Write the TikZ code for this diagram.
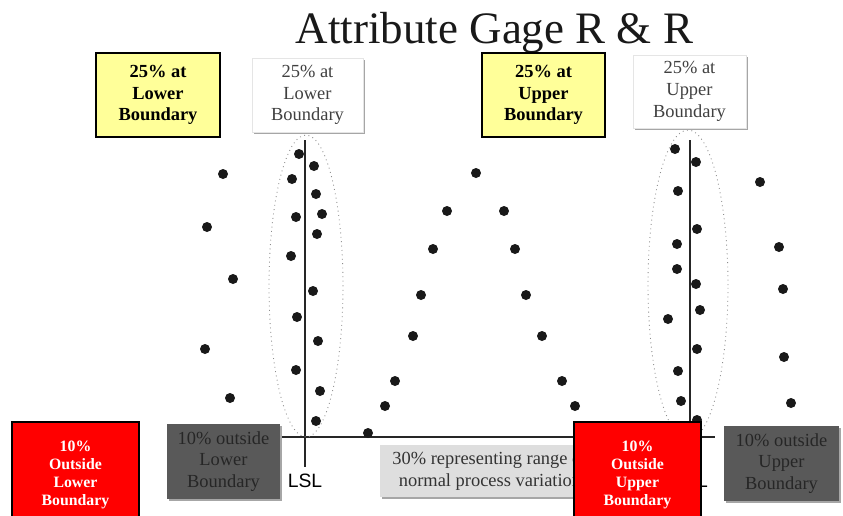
\documentclass[tikz,border=0pt]{standalone}
\usepackage{fontspec}
\setmainfont{Liberation Serif}
\setsansfont{Liberation Sans}
\usetikzlibrary{shadows}

\definecolor{boxyellow}{RGB}{255,255,153}
\definecolor{boxred}{RGB}{255,0,0}
\definecolor{boxgray}{RGB}{89,89,89}
\definecolor{rangegray}{RGB}{222,222,222}

\tikzset{
  box/.style={align=center, inner sep=0pt, font=\fontsize{10.5}{12.4}\selectfont},
  boxshadow/.style={drop shadow={shadow xshift=1pt, shadow yshift=-1pt, fill=black!35, opacity=1}},
  yellowbox/.style={box, draw=black, line width=1.1pt, fill=boxyellow,
    font=\bfseries\fontsize{10.5}{12.2}\selectfont},
  whitebox/.style={box, boxshadow, draw=black!10, fill=white, text=black!75},
  redbox/.style={box, draw=black, line width=1.1pt, fill=boxred, text=white,
    font=\bfseries\fontsize{9}{10.3}\selectfont},
  graybox/.style={box, boxshadow, fill=boxgray, text=black!85},
  rangebox/.style={box, boxshadow, fill=rangegray, text=black!80},
  datadot/.style={fill=black!90},
  limitline/.style={black!85, line width=0.6pt},
  zone/.style={black!45, dotted, line width=0.5pt},
  speclabel/.style={font=\sffamily\fontsize{11}{13}\selectfont, inner sep=1pt}
}

\begin{document}
\begin{tikzpicture}[x=0.02cm, y=-0.02cm]
		%%%%% frame %%%%%
		\clip (0,0) rectangle (843,515);
		\fill[white] (0,0) rectangle (843,515);
		
		\node[anchor=base, font=\fontsize{25.6}{30}\selectfont, text=black!90] (title) at (494.5,43) {Attribute Gage R \& R};
		
		%%%%% spec limits %%%%%
		\node[speclabel, anchor=north] (lsl) at (305,472) {LSL};
		\node[speclabel, anchor=north] (usl) at (689,472) {USL};
		\coordinate (lslTop) at (305,140);
		\coordinate (uslTop) at (690,140);
		\draw[limitline] (lslTop) -- (305,467);
		\draw[limitline] (uslTop) -- (690,467);
		\coordinate (axisL) at (282,437);
		\coordinate (axisR) at (715,437);
		\draw[limitline] (axisL) -- (axisR);
		
		\draw[zone] (306,286) ellipse [x radius=0.74cm, y radius=3.02cm];
		\draw[zone] (688,285) ellipse [x radius=0.8cm, y radius=3.1cm];
		
		%%%%% readings %%%%%
		% outside lower
		\foreach \px/\py in {223/174, 207/227, 233/279, 205/349, 230/398}
		  \fill[datadot] (\px,\py) circle (0.1cm);
		% at lower boundary
		\foreach \px/\py in {299/154, 314/166, 292/179, 316/194, 322/214, 296/217, 317/234,
		                     291/256, 313/291, 297/317, 318/341, 296/370, 320/391, 316/421}
		  \fill[datadot] (\px,\py) circle (0.1cm);
		% normal variation
		\foreach \px/\py in {476/173, 447/211, 504/211, 433/249, 515/249, 421/295, 526/295,
		                     413/336, 542/336, 395/381, 562/381, 385/406, 575/406, 368/433}
		  \fill[datadot] (\px,\py) circle (0.1cm);
		% at upper boundary
		\foreach \px/\py in {675/149, 696/162, 678/191, 697/229, 677/244, 677/269, 696/284,
		                     700/310, 668/319, 697/349, 678/371, 681/401, 697/420}
		  \fill[datadot] (\px,\py) circle (0.1cm);
		% outside upper
		\foreach \px/\py in {760/182, 779/247, 783/289, 784/357, 791/403}
		  \fill[datadot] (\px,\py) circle (0.1cm);
		
		%%%%% labels %%%%%
		\node[yellowbox, minimum width=2.48cm, minimum height=1.68cm] (lowerIn) at (158,95) {25\% at\\Lower\\Boundary};
		\node[whitebox, minimum width=2.22cm, minimum height=1.48cm] (lowerTag) at (307.5,95) {25\% at\\Lower\\Boundary};
		\node[yellowbox, minimum width=2.46cm, minimum height=1.68cm] (upperIn) at (543.5,95) {25\% at\\Upper\\Boundary};
		\node[whitebox, minimum width=2.26cm, minimum height=1.46cm] (upperTag) at (689.5,91.5) {25\% at\\Upper\\Boundary};
		
		\node[redbox, minimum width=2.54cm, minimum height=2.12cm] (lowerOut) at (75.5,475) {10\%\\Outside\\Lower\\Boundary};
		\node[graybox, minimum width=2.26cm, minimum height=1.5cm] (lowerOutTag) at (223.5,461.5) {10\% outside\\Lower\\Boundary};
		\node[rangebox, minimum width=4.4cm, minimum height=1.04cm] (range) at (490,471) {30\% representing range of\\normal process variation};
		\node[redbox, minimum width=2.54cm, minimum height=2.12cm] (upperOut) at (637.5,475) {10\%\\Outside\\Upper\\Boundary};
		\node[graybox, minimum width=2.3cm, minimum height=1.5cm] (upperOutTag) at (781.5,463.5) {10\% outside\\Upper\\Boundary};
		
		%%%%% END %%%%%
\end{tikzpicture}
\end{document}
